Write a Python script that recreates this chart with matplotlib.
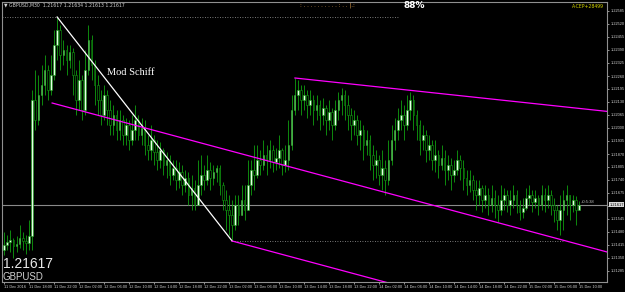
import numpy as np
import matplotlib
matplotlib.use("Agg")
import matplotlib.pyplot as plt
from matplotlib.patches import Rectangle

# GBPUSD M30 candles, prices in pips above 1.2100
first_open = 39
close_pips = [41.5, 43, 44, 41, 42, 45, 43.5, 42.5, 46, 114,
              104, 116.5, 121.5, 129, 119, 126.5, 141.5, 149, 136.5, 139,
              134, 138, 126.5, 114, 124, 109, 129, 144, 131.5, 121.5,
              114, 106.5, 116.5, 109, 101.5, 106.5, 99, 104, 96.5, 101.5,
              94, 99, 104, 96.5, 100, 91.5, 89, 94, 88, 84,
              89, 81.5, 84, 76.5, 80, 74, 78, 71.5, 75, 66.5,
              70, 61.5, 71.5, 76.5, 74, 79, 75, 78, 80, 71.5,
              64, 59, 56.5, 51.5, 61.5, 56.5, 64, 59, 71.5, 79,
              76.5, 84, 81.5, 86.5, 84, 89, 83, 85, 89, 81.5,
              84, 91.5, 109, 116.5, 119, 114, 116.5, 111.5, 114, 109,
              111.5, 106.5, 110, 104, 108, 101.5, 109, 114, 116.5, 111.5,
              106.5, 101.5, 104, 96.5, 99, 91.5, 94, 86.5, 81.5, 84,
              76.5, 80, 74, 84, 94, 99, 104, 106.5, 101.5, 109,
              114, 106.5, 101.5, 94, 96.5, 89, 91.5, 84, 86.5, 81.5,
              85, 79, 81.5, 76.5, 79, 84, 80, 75, 71.5, 74,
              69, 66.5, 70, 64, 66.5, 61.5, 65, 61.5, 59, 64,
              66.5, 61.5, 64, 66.5, 61.5, 58, 60, 65, 66.5, 63,
              65, 61.5, 66.5, 64, 66.5, 61.5, 59, 54, 59, 64,
              66.5, 61.5, 64, 59, 61.7]
high_pips = [48, 46.5, 49, 45, 46, 51.5, 48, 46.5, 54, 119,
             129, 126.5, 131.5, 136.5, 131.5, 136.5, 149, 155.5, 151.5, 144,
             141.5, 141.5, 140, 129, 134, 126.5, 139, 151.5, 146.5, 134,
             126.5, 119, 121.5, 119, 114, 111.5, 109, 109, 106.5, 105,
             104, 106.5, 111.5, 106.5, 105, 104, 96.5, 101.5, 96.5, 94,
             93, 90, 88, 86.5, 84, 84, 83, 81.5, 79, 78,
             76.5, 74, 84, 86.5, 81.5, 86.5, 83, 81.5, 81.5, 81.5,
             73, 69, 66.5, 64, 66.5, 66.5, 71.5, 71.5, 84, 84,
             91.5, 91.5, 89, 94, 91.5, 94, 91.5, 90, 96.5, 90,
             91.5, 104, 116.5, 125, 124, 121.5, 121.5, 119, 119, 116.5,
             116.5, 114, 115, 111.5, 114, 110, 114, 118, 120, 119,
             116.5, 110, 109, 106.5, 104, 101.5, 99, 96.5, 91.5, 89,
             86.5, 89, 84, 94, 101.5, 105, 110, 114, 111.5, 116.5,
             118, 116.5, 109, 104, 101.5, 99, 96.5, 94, 94, 89,
             91.5, 89, 86.5, 85, 84, 89, 86.5, 84, 79, 79,
             76.5, 74, 74, 71.5, 71.5, 70, 71.5, 69, 66.5, 71.5,
             70, 69, 69, 71.5, 69, 64, 65, 70, 71.5, 69,
             69, 66.5, 71.5, 70, 71.5, 69, 65, 61.5, 66.5, 69,
             71.5, 66.5, 66.5, 66, 63.4]
low_pips = [36.5, 39, 38, 35, 38, 40, 39, 37, 39, 39,
            99, 101.5, 111.5, 116.5, 114, 116.5, 124, 134, 129, 131.5,
            126.5, 130, 116.5, 106.5, 109, 104, 106.5, 126.5, 124, 111.5,
            106.5, 101.5, 104, 101.5, 96.5, 96.5, 94, 94, 91.5, 91.5,
            89, 91.5, 94, 94, 91.5, 86.5, 84, 84, 81.5, 79,
            80, 76.5, 75, 71.5, 74, 69, 70, 66.5, 68, 61.5,
            59, 59, 61.5, 66.5, 69, 71.5, 69, 71.5, 73, 66.5,
            59, 49, 46.5, 43.5, 49, 51.5, 56.5, 54, 59, 66.5,
            69, 75, 76.5, 79, 76.5, 80, 78, 79, 80, 76.5,
            78, 79, 89, 106.5, 109, 106.5, 109, 105, 106.5, 101.5,
            104, 99, 101.5, 96.5, 99, 94, 99, 104, 106.5, 104,
            99, 94, 96.5, 91.5, 89, 84, 86.5, 79, 74, 75,
            71.5, 69, 66.5, 71.5, 81.5, 89, 94, 99, 94, 99,
            104, 99, 94, 86.5, 89, 83, 84, 79, 78, 75,
            79, 71.5, 74, 69, 73, 76.5, 74, 69, 66.5, 68,
            64, 59, 61.5, 58, 60, 56.5, 58, 55, 53, 56.5,
            59, 58, 56.5, 60, 57.5, 54, 55, 59, 61.5, 58,
            60, 56.5, 59, 58, 60, 56.5, 53, 49, 46.5, 49,
            56.5, 54, 58, 51.5, 61.3]

xtick_bars = list(range(0, 185, 8))
xtick_labels = ["11 Dec 2016", "11 Dec 18:00", "11 Dec 22:00", "12 Dec 02:00",
                "12 Dec 06:00", "12 Dec 10:00", "12 Dec 14:00", "12 Dec 18:00",
                "12 Dec 22:00", "13 Dec 02:00", "13 Dec 06:00", "13 Dec 10:00",
                "13 Dec 14:00", "13 Dec 18:00", "13 Dec 22:00", "14 Dec 02:00",
                "14 Dec 06:00", "14 Dec 10:00", "14 Dec 14:00", "14 Dec 18:00",
                "14 Dec 22:00", "15 Dec 02:00", "15 Dec 06:00", "15 Dec 10:00"]
ytick_prices = [round(1.22585 - k * 0.00065, 5) for k in range(21)]

last_price = 1.21617

# drawing objects (bar index, price)
schiff_x, schiff_y = [17, 73], [1.22555, 1.21435]
median_x, median_y = [15.4, 193], [1.22125, 1.2138]
upper_x, upper_y = [93.1, 193], [1.2225, 1.22083]
lower_x, lower_y = [73, 193], [1.21435, 1.20932]

base = 1.21
closes = base + np.array(close_pips) / 10000
opens = base + np.array([first_open] + close_pips[:-1]) / 10000
highs = base + np.array(high_pips) / 10000
lows = base + np.array(low_pips) / 10000
highs = np.maximum(highs, np.maximum(opens, closes))
lows = np.minimum(lows, np.minimum(opens, closes))

fig = plt.figure(figsize=(6.25, 2.92), dpi=100)
fig.patch.set_facecolor("black")
ax = fig.add_axes([2 / 625, 10 / 292, 605 / 625, 280 / 292])
ax.set_facecolor("black")

green = "#10a010"
ax.vlines(np.arange(len(closes)), lows, highs, color=green, lw=0.6, zorder=2)
for i, (o, c) in enumerate(zip(opens, closes)):
    bottom = min(o, c)
    h = max(abs(c - o), 0.000015)
    face = "#e6ffe6" if c > o else "black"
    ax.add_patch(Rectangle((i - 0.27, bottom), 0.54, h, facecolor=face,
                           edgecolor=green, lw=0.4, zorder=3))

# pitchfork and trend line
ax.plot(schiff_x, schiff_y, color="white", lw=0.9, zorder=4)
for lx, ly in [(median_x, median_y), (upper_x, upper_y), (lower_x, lower_y)]:
    ax.plot(lx, ly, color="#ff00ff", lw=0.9, zorder=4)
ax.text(33, 1.22275, "Mod Schiff", color="white", fontsize=7.5,
        family="Liberation Serif", va="center", zorder=5)

# dotted levels
ax.hlines(1.22555, -0.6, 126.5, color="#a0a0a0", lw=0.6, linestyles=(0, (1, 2)))
ax.hlines(1.21435, 73, 179, color="#a0a0a0", lw=0.6, linestyles=(0, (1, 2)))

# current price line
ax.axhline(last_price, color="#8a8a8a", lw=0.8, zorder=1)
ax.text(184.5, last_price + 0.00003, "+0:5:38", color="#c0c0c0", fontsize=3,
        family="Liberation Sans", va="bottom", ha="left")

ax.set_xlim(-0.64, 192.96)
ax.set_ylim(1.2123, 1.2263)

ax.yaxis.tick_right()
# leave out the scale label hidden behind the price tag
ax.set_yticks(ytick_prices)
ax.set_yticklabels(["" if abs(p - last_price) < 0.0002 else "%.5f" % p
                    for p in ytick_prices])
ax.set_xticks(xtick_bars)
ax.set_xticklabels(xtick_labels, ha="left")
ax.tick_params(colors="#d0d0d0", labelsize=2.8, length=1.5, width=0.5, pad=0.8)
for lab in ax.get_xticklabels() + ax.get_yticklabels():
    lab.set_family("Liberation Sans")
for s in ax.spines.values():
    s.set_color("#909090")
    s.set_linewidth(0.8)

# current price tag on the scale
ax.text(1.004, last_price, "1.21617", transform=ax.get_yaxis_transform(),
        fontsize=2.8, family="Liberation Sans", color="black", va="center",
        ha="left", bbox=dict(boxstyle="square,pad=0.15", fc="#d8d8d8", ec="none"))

# header texts
fig.text(4 / 625, 1 - 5 / 292, "\u25bc GBPUSD,M30  1.21617 1.21634 1.21613 1.21617",
         color="#d0d0d0", fontsize=3.3, va="center")
fig.text(300 / 625, 1 - 5 / 292, ": . . . . . . . . . . : . . |.:", color="#e0a050",
         fontsize=4, va="center")
fig.text(404 / 625, 1 - 5 / 292, "88%", color="white", fontsize=6.5,
         fontweight="bold", va="center")
fig.text(604 / 625, 1 - 7 / 292, "A-CEP+28499", color="#d8d800", fontsize=3.3,
         ha="right", va="center")

# bottom-left quote
fig.text(3 / 625, 1 - 264 / 292, "1.21617", color="#e8e8e8", fontsize=10,
         family="Liberation Sans", va="center")
fig.text(3 / 625, 1 - 277 / 292, "GBPUSD", color="#d0d0d0", fontsize=7,
         family="Liberation Sans", va="center")

fig.savefig("out.png", dpi=100, facecolor="black")
